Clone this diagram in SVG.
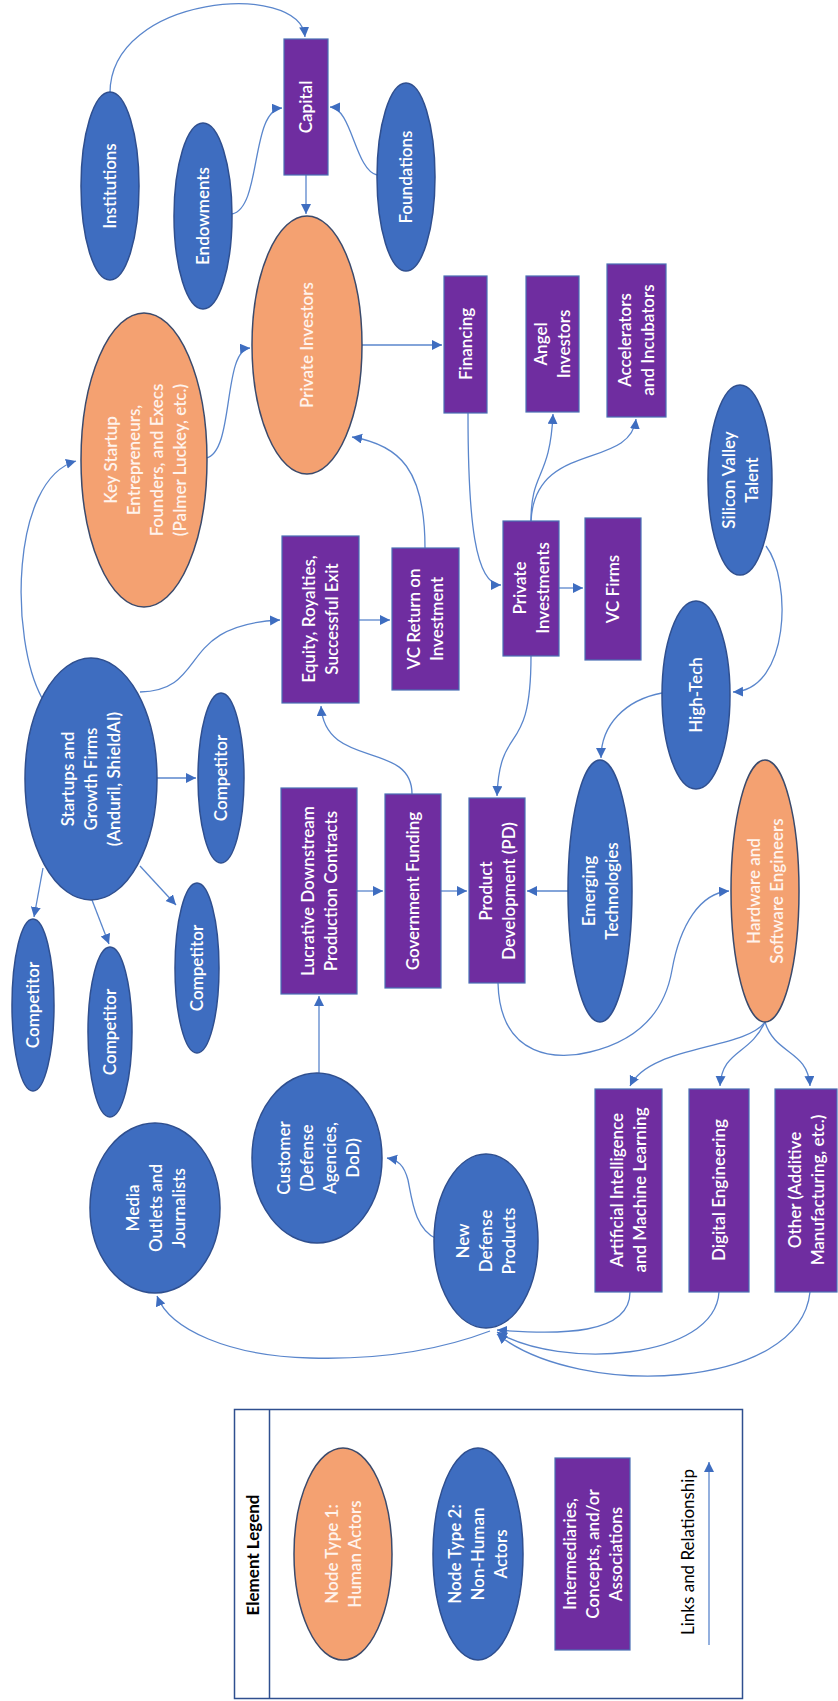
<svg xmlns="http://www.w3.org/2000/svg" width="838" height="1701" viewBox="0 0 838 1701">
<style>
.b{fill:#3E6DC0;stroke:#2F4F8F;stroke-width:1.5}
.o{fill:#F4A171;stroke:#3B4A6B;stroke-width:1.5}
.p{fill:#6F2DA0;stroke:#4A6FB5;stroke-width:1.2}
.t{font-family:Lato,"Open Sans",sans-serif;font-size:17px;font-weight:600;fill:#FFFFFF;text-anchor:middle}
.to{fill:#FFF3EC}
.k{fill:#000000}
.c{fill:none;stroke:#5A86CC;stroke-width:1.3;marker-end:url(#ah)}
</style>
<defs>
<marker id="ah" markerUnits="userSpaceOnUse" markerWidth="11" markerHeight="11" refX="10" refY="5" orient="auto">
<path d="M0,0 L10,5 L0,10 z" fill="#3E6DC0"/>
</marker>
</defs>
<rect width="838" height="1701" fill="#FFFFFF"/>
<g id="connectors">
<path class="c" d="M110,93 C110,-5 300,-20 305,37"/>
<path class="c" d="M232,214 C262,208 250,110 282,108"/>
<path class="c" d="M377,175 C355,170 352,108 330,107"/>
<path class="c" d="M306,175 L306,214"/>
<path class="c" d="M206,458 C235,452 222,350 250,348"/>
<path class="c" d="M362,345 L442,345"/>
<path class="c" d="M468,413 C468,520 475,585 501,585"/>
<path class="c" d="M531,521 C531,470 550,480 553,414"/>
<path class="c" d="M531,521 C535,440 630,470 636,419"/>
<path class="c" d="M559,588 L583,588"/>
<path class="c" d="M425,548 C425,470 400,445 352,437"/>
<path class="c" d="M359,620 L390,620"/>
<path class="c" d="M531,656 C531,760 500,720 497,796"/>
<path class="c" d="M766,546 C792,580 790,690 733,692"/>
<path class="c" d="M662,693 C625,700 601,725 601,758"/>
<path class="c" d="M42,698 C10,640 10,480 76,461"/>
<path class="c" d="M140,692 C210,690 175,625 280,620"/>
<path class="c" d="M157,778 L196,778"/>
<path class="c" d="M43,868 L34,917"/>
<path class="c" d="M92,900 L109,944"/>
<path class="c" d="M140,866 L176,905"/>
<path class="c" d="M412,794 C412,740 325,770 321,706"/>
<path class="c" d="M319,1073 L319,996"/>
<path class="c" d="M357,891 L383,891"/>
<path class="c" d="M441,891 L467,891"/>
<path class="c" d="M568,891 L527,891"/>
<path class="c" d="M498,983 C500,1060 560,1060 590,1052 C640,1040 665,1010 672,970 C680,925 700,893 729,891"/>
<path class="c" d="M765,1022 C745,1050 650,1045 630,1086"/>
<path class="c" d="M765,1022 C750,1055 722,1050 720,1086"/>
<path class="c" d="M765,1022 C775,1055 808,1050 810,1086"/>
<path class="c" d="M630,1292 C630,1335 560,1335 497,1330"/>
<path class="c" d="M719,1292 C715,1360 560,1370 497,1332"/>
<path class="c" d="M810,1292 C800,1390 580,1400 497,1334"/>
<path class="c" d="M490,1331 C440,1350 380,1360 310,1358 C230,1356 170,1330 157,1296"/>
<path class="c" d="M437,1239 C415,1230 412,1200 408,1180 C404,1165 398,1160 387,1158"/>
</g>
<g id="institutions"><ellipse class="b" cx="110" cy="186" rx="29" ry="94"/><text class="t" transform="translate(110 186) rotate(-90)"><tspan x="0" y="6">Institutions</tspan></text></g>
<g id="endowments"><ellipse class="b" cx="203" cy="216" rx="29" ry="93"/><text class="t" transform="translate(203 216) rotate(-90)"><tspan x="0" y="6">Endowments</tspan></text></g>
<g id="capital"><rect class="p" x="284" y="39" width="44" height="136"/><text class="t" transform="translate(306 107) rotate(-90)"><tspan x="0" y="6">Capital</tspan></text></g>
<g id="foundations"><ellipse class="b" cx="406" cy="177" rx="29" ry="94"/><text class="t" transform="translate(406 177) rotate(-90)"><tspan x="0" y="6">Foundations</tspan></text></g>
<g id="key-startup"><ellipse class="o" cx="144" cy="460" rx="63" ry="147"/><text class="t to" transform="translate(145 460) rotate(-90)"><tspan x="0" y="-28.5">Key Startup</tspan><tspan x="0" y="-5.5">Entrepreneurs,</tspan><tspan x="0" y="17.5">Founders, and Execs</tspan><tspan x="0" y="40.5">(Palmer Luckey, etc.)</tspan></text></g>
<g id="private-investors"><ellipse class="o" cx="307" cy="345" rx="55" ry="129"/><text class="t to" transform="translate(307 345) rotate(-90)"><tspan x="0" y="6">Private Investors</tspan></text></g>
<g id="financing"><rect class="p" x="444" y="276" width="43" height="137"/><text class="t" transform="translate(465.5 344) rotate(-90)"><tspan x="0" y="6">Financing</tspan></text></g>
<g id="angel-investors"><rect class="p" x="526" y="276" width="53" height="136"/><text class="t" transform="translate(552.5 344) rotate(-90)"><tspan x="0" y="-5.5">Angel</tspan><tspan x="0" y="17.5">Investors</tspan></text></g>
<g id="accelerators"><rect class="p" x="607" y="264" width="59" height="153"/><text class="t" transform="translate(636.5 340) rotate(-90)"><tspan x="0" y="-5.5">Accelerators</tspan><tspan x="0" y="17.5">and Incubators</tspan></text></g>
<g id="equity"><rect class="p" x="282" y="536" width="77" height="167"/><text class="t" transform="translate(320.5 619) rotate(-90)"><tspan x="0" y="-5.5">Equity, Royalties,</tspan><tspan x="0" y="17.5">Successful Exit</tspan></text></g>
<g id="vc-return"><rect class="p" x="392" y="548" width="67" height="142"/><text class="t" transform="translate(425.5 619) rotate(-90)"><tspan x="0" y="-5.5">VC Return on</tspan><tspan x="0" y="17.5">Investment</tspan></text></g>
<g id="private-investments"><rect class="p" x="503" y="521" width="56" height="135"/><text class="t" transform="translate(531 588) rotate(-90)"><tspan x="0" y="-5.5">Private</tspan><tspan x="0" y="17.5">Investments</tspan></text></g>
<g id="vc-firms"><rect class="p" x="585" y="518" width="56" height="142"/><text class="t" transform="translate(613 589) rotate(-90)"><tspan x="0" y="6">VC Firms</tspan></text></g>
<g id="silicon-valley-talent"><ellipse class="b" cx="740" cy="480" rx="32" ry="95"/><text class="t" transform="translate(740 480) rotate(-90)"><tspan x="0" y="-5.5">Silicon Valley</tspan><tspan x="0" y="17.5">Talent</tspan></text></g>
<g id="startups"><ellipse class="b" cx="91" cy="779" rx="66" ry="121"/><text class="t" transform="translate(91 779) rotate(-90)"><tspan x="0" y="-17">Startups and</tspan><tspan x="0" y="6">Growth Firms</tspan><tspan x="0" y="29">(Anduril, ShieldAI)</tspan></text></g>
<g id="competitor-a"><ellipse class="b" cx="221" cy="778" rx="23" ry="85"/><text class="t" transform="translate(221 778) rotate(-90)"><tspan x="0" y="6">Competitor</tspan></text></g>
<g id="high-tech"><ellipse class="b" cx="696" cy="695" rx="34" ry="94"/><text class="t" transform="translate(696 695) rotate(-90)"><tspan x="0" y="6">High-Tech</tspan></text></g>
<g id="lucrative"><rect class="p" x="281" y="788" width="76" height="206"/><text class="t" transform="translate(319 891) rotate(-90)"><tspan x="0" y="-5.5">Lucrative Downstream</tspan><tspan x="0" y="17.5">Production Contracts</tspan></text></g>
<g id="government-funding"><rect class="p" x="385" y="794" width="56" height="194"/><text class="t" transform="translate(413 891) rotate(-90)"><tspan x="0" y="6">Government Funding</tspan></text></g>
<g id="product-development"><rect class="p" x="469" y="798" width="56" height="185"/><text class="t" transform="translate(497 891) rotate(-90)"><tspan x="0" y="-5.5">Product</tspan><tspan x="0" y="17.5">Development (PD)</tspan></text></g>
<g id="emerging-technologies"><ellipse class="b" cx="600" cy="891" rx="32" ry="131"/><text class="t" transform="translate(600 891) rotate(-90)"><tspan x="0" y="-5.5">Emerging</tspan><tspan x="0" y="17.5">Technologies</tspan></text></g>
<g id="engineers"><ellipse class="o" cx="765" cy="891" rx="34" ry="131"/><text class="t to" transform="translate(765 891) rotate(-90)"><tspan x="0" y="-5.5">Hardware and</tspan><tspan x="0" y="17.5">Software Engineers</tspan></text></g>
<g id="competitor-b"><ellipse class="b" cx="33" cy="1005" rx="21" ry="86"/><text class="t" transform="translate(33 1005) rotate(-90)"><tspan x="0" y="6">Competitor</tspan></text></g>
<g id="competitor-c"><ellipse class="b" cx="110" cy="1032" rx="22" ry="85"/><text class="t" transform="translate(110 1032) rotate(-90)"><tspan x="0" y="6">Competitor</tspan></text></g>
<g id="competitor-d"><ellipse class="b" cx="197" cy="968" rx="22" ry="85"/><text class="t" transform="translate(197 968) rotate(-90)"><tspan x="0" y="6">Competitor</tspan></text></g>
<g id="media"><ellipse class="b" cx="155" cy="1208" rx="65" ry="85"/><text class="t" transform="translate(156 1208) rotate(-90)"><tspan x="0" y="-17">Media</tspan><tspan x="0" y="6">Outlets and</tspan><tspan x="0" y="29">Journalists</tspan></text></g>
<g id="customer"><ellipse class="b" cx="317" cy="1158" rx="65" ry="85"/><text class="t" transform="translate(318 1158) rotate(-90)"><tspan x="0" y="-28.5">Customer</tspan><tspan x="0" y="-5.5">(Defense</tspan><tspan x="0" y="17.5">Agencies,</tspan><tspan x="0" y="40.5">DoD)</tspan></text></g>
<g id="new-defense-products"><ellipse class="b" cx="486" cy="1241" rx="52" ry="87"/><text class="t" transform="translate(486 1241) rotate(-90)"><tspan x="0" y="-17">New</tspan><tspan x="0" y="6">Defense</tspan><tspan x="0" y="29">Products</tspan></text></g>
<g id="ai-ml"><rect class="p" x="595" y="1089" width="67" height="203"/><text class="t" transform="translate(628.5 1190) rotate(-90)"><tspan x="0" y="-5.5">Artificial Intelligence</tspan><tspan x="0" y="17.5">and Machine Learning</tspan></text></g>
<g id="digital-engineering"><rect class="p" x="689" y="1089" width="60" height="203"/><text class="t" transform="translate(719 1190) rotate(-90)"><tspan x="0" y="6">Digital Engineering</tspan></text></g>
<g id="other"><rect class="p" x="775" y="1089" width="62" height="203"/><text class="t" transform="translate(806 1190) rotate(-90)"><tspan x="0" y="-5.5">Other (Additive</tspan><tspan x="0" y="17.5">Manufacturing, etc.)</tspan></text></g>
<g id="legend">
<rect x="234.5" y="1409.5" width="508" height="289" fill="none" stroke="#2F4F8F" stroke-width="1.5"/>
<line x1="269.5" y1="1409.5" x2="269.5" y2="1698.5" stroke="#2F4F8F" stroke-width="1.5"/>
<text class="t k" style="font-weight:bold" transform="translate(253 1555) rotate(-90)"><tspan x="0" y="6">Element Legend</tspan></text>
<ellipse class="o" cx="343" cy="1554" rx="49" ry="106"/>
<text class="t to" transform="translate(343 1554) rotate(-90)"><tspan x="0" y="-5.5">Node Type 1:</tspan><tspan x="0" y="17.5">Human Actors</tspan></text>
<ellipse class="b" cx="478" cy="1554" rx="45" ry="106"/>
<text class="t" transform="translate(478 1554) rotate(-90)"><tspan x="0" y="-17">Node Type 2:</tspan><tspan x="0" y="6">Non-Human</tspan><tspan x="0" y="29">Actors</tspan></text>
<rect class="p" x="555" y="1458" width="75" height="192"/>
<text class="t" transform="translate(592.5 1554) rotate(-90)"><tspan x="0" y="-17">Intermediaries,</tspan><tspan x="0" y="6">Concepts, and/or</tspan><tspan x="0" y="29">Associations</tspan></text>
<path class="c" d="M709,1645 L709,1462"/>
<text class="t k" style="font-weight:normal" transform="translate(688 1552) rotate(-90)"><tspan x="0" y="6">Links and Relationship</tspan></text>
</g>
</svg>
